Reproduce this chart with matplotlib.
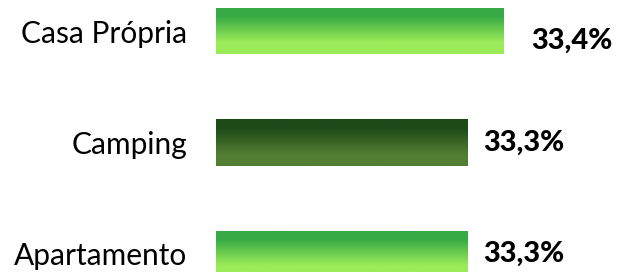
import matplotlib
matplotlib.use("Agg")
import matplotlib.pyplot as plt
import numpy as np
from matplotlib.colors import LinearSegmentedColormap

categories = ["Casa Própria", "Camping", "Apartamento"]
values = [33.4, 33.3, 33.3]
value_labels = ["33,4%", "33,3%", "33,3%"]

# style
top_colors = ["#37AA44", "#1D4A17", "#37AA44"]
bot_colors = ["#9CEB58", "#527E33", "#9CEB58"]
label_dx_px = [27, 15, 15]
label_dy_px = [-10, 0, 0]

plt.rcParams['font.family'] = ['Lato', 'DejaVu Sans']

W, H, DPI = 621, 272, 100
fig = plt.figure(figsize=(W / DPI, H / DPI), dpi=DPI)
left_px = 216
ax = fig.add_axes([left_px / W, 0, (W - left_px) / W, 1])

x0 = 32.6
px_per_unit = 360.0
ax.set_xlim(x0, x0 + (W - left_px) / px_per_unit)
spacing = 111.5
ax.set_ylim((H - 31) / spacing, -31 / spacing)

ypos = np.arange(len(categories))
bars = ax.barh(ypos, [v - x0 for v in values], left=x0, height=0.42,
               color="none", edgecolor="none")

grad = np.linspace(0, 1, 256).reshape(-1, 1)
for b, tc, bc in zip(bars, top_colors, bot_colors):
    cmap = LinearSegmentedColormap.from_list(
        "g", [(0, tc), (0.2, tc), (0.75, bc), (1, bc)])
    x, y = b.get_x(), b.get_y()
    w, h = b.get_width(), b.get_height()
    im = ax.imshow(grad, cmap=cmap, aspect="auto",
                   extent=[x, x + w, y + h, y], origin="upper", zorder=2)
    im.set_clip_path(b)

for i, (v, lab) in enumerate(zip(values, value_labels)):
    ax.annotate(lab, xy=(v, i),
                xytext=(label_dx_px[i] * 72 / DPI, label_dy_px[i] * 72 / DPI),
                textcoords="offset points", ha="left", va="center",
                fontsize=21, fontweight="black", color="black")

ax.set_yticks(ypos)
ax.set_yticklabels(categories, fontsize=21.5)
ax.tick_params(axis="y", length=0, pad=29 * 72 / DPI)
ax.set_xticks([])
for s in ax.spines.values():
    s.set_visible(False)

fig.savefig("out.png", dpi=DPI)
